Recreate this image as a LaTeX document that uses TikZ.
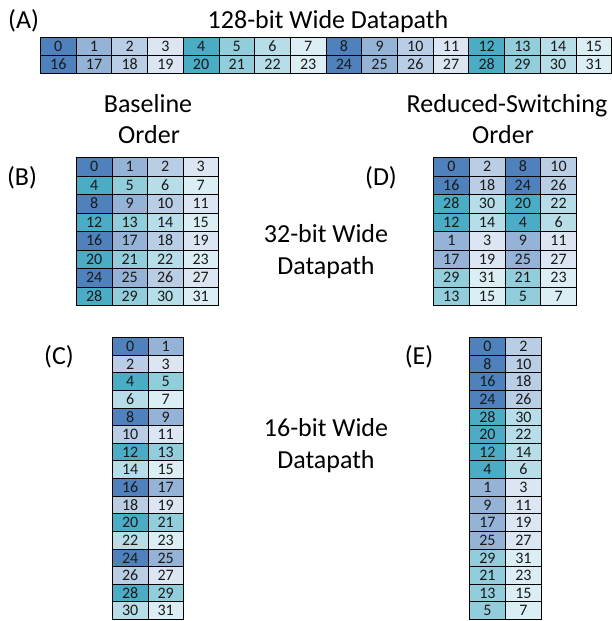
\documentclass[tikz,border=0pt]{standalone}
\usepackage{fontspec}
\setmainfont{Carlito}
\definecolor{c0}{HTML}{4F81BD}
\definecolor{c1}{HTML}{95B3D7}
\definecolor{c2}{HTML}{B9CDE5}
\definecolor{c3}{HTML}{DCE6F2}
\definecolor{c4}{HTML}{4BACC6}
\definecolor{c5}{HTML}{92CDDC}
\definecolor{c6}{HTML}{B7DEE8}
\definecolor{c7}{HTML}{DBEEF4}
\definecolor{celltext}{HTML}{1A1A1A}
\tikzset{
  lbl/.style={font=\fontsize{26}{30}\selectfont, inner sep=0pt, anchor=base},
  cell/.style={draw=black, line width=0.9pt, inner sep=0pt, anchor=north west,
    font=\fontsize{16}{16}\selectfont, text=celltext, text height=10.5pt, text depth=0pt},
}
\newcommand\mygrid[7]{%
  \foreach \v [count=\i from 0] in {#7} {
    \pgfmathtruncatemacro\col{mod(\i,#6)}
    \pgfmathtruncatemacro\row{div(\i,#6)}
    \pgfmathtruncatemacro\cc{mod(\v,8)}
    \node[cell, fill=c\cc, minimum width=#4pt, minimum height=#5pt] (#1-\i)
      at ({#2+\col*#4},{#3+\row*#5}) {\v};
  }}
\begin{document}
\begin{tikzpicture}[x=1pt,y=-1pt]
\useasboundingbox (0,0) rectangle (611,621);
% (A)
\node[lbl, anchor=base west] (labA) at (8,28) {(A)};
\node[lbl] (titleA) at (328,28) {128-bit Wide Datapath};
\mygrid{A}{40}{37}{35.7}{18}{16}{0,1,...,31}
% headers
\node[lbl] (base1) at (148,112) {Baseline};
\node[lbl] (base2) at (149,143) {Order};
\node[lbl] (red1) at (507,112) {Reduced-Switching};
\node[lbl] (red2) at (503,143) {Order};
% (B) and (D)
\node[lbl] (labB) at (22,185) {(B)};
\node[lbl] (labD) at (381,185) {(D)};
\mygrid{B}{76}{157}{35.5}{18.5}{4}{0,1,...,31}
\mygrid{D}{433}{157}{35.75}{18.5}{4}{0,2,8,10,16,18,24,26,28,30,20,22,12,14,4,6,1,3,9,11,17,19,25,27,29,31,21,23,13,15,5,7}
\node[lbl] (w32a) at (326,242) {32-bit Wide};
\node[lbl] (w32b) at (326,274) {Datapath};
% (C) and (E)
\node[lbl] (labC) at (59,364) {(C)};
\node[lbl] (labE) at (419,364) {(E)};
\mygrid{C}{112}{337}{35.5}{17.625}{2}{0,1,...,31}
\mygrid{E}{469}{337}{36}{17.625}{2}{0,2,8,10,16,18,24,26,28,30,20,22,12,14,4,6,1,3,9,11,17,19,25,27,29,31,21,23,13,15,5,7}
\node[lbl] (w16a) at (326,436) {16-bit Wide};
\node[lbl] (w16b) at (326,468) {Datapath};
\end{tikzpicture}
\end{document}
